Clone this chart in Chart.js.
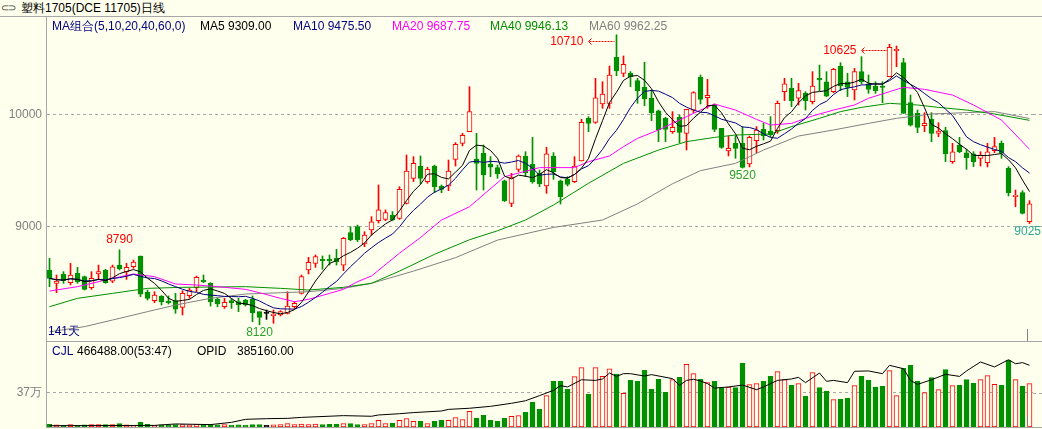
<!DOCTYPE html>
<html>
<head>
<meta charset="utf-8">
<script src="https://cdn.jsdelivr.net/npm/chart.js@4.4.1/dist/chart.umd.min.js"></script>
<style>
  body { margin: 0; width: 1042px; height: 429px; overflow: hidden; position: relative;
         background: #FFFFEE; font-family: "Liberation Sans", Arial, sans-serif; font-size: 12px; }
  .t { position: absolute; white-space: pre; line-height: 14px; }
  .hl { position: absolute; height: 1px; background: #A8A8A8; }
  .vl { position: absolute; width: 1px; background: #808080; }
  canvas { position: absolute; left: 0; }
  #main { top: 17px; }
  #vol { top: 341px; }
</style>
</head>
<body>
<canvas id="main" width="1042" height="324"></canvas>
<canvas id="vol" width="1042" height="86"></canvas>

<div class="t" style="left:1px;top:1px;color:#404040;font-size:10px;letter-spacing:-1px">⊂⊃</div>
<div class="t" style="left:21px;top:1px;color:#000">塑料1705(DCE 11705)日线</div>
<div class="hl" style="left:0;top:16px;width:1042px"></div>

<div class="t" style="left:52px;top:19px;color:#000080">MA组合(5,10,20,40,60,0)</div>
<div class="t" style="left:200px;top:19px;color:#000">MA5 9309.00</div>
<div class="t" style="left:293px;top:19px;color:#000080">MA10 9475.50</div>
<div class="t" style="left:392px;top:19px;color:#FF00FF">MA20 9687.75</div>
<div class="t" style="left:490px;top:19px;color:#009000">MA40 9946.13</div>
<div class="t" style="left:589px;top:19px;color:#808080">MA60 9962.25</div>
<div class="t" style="left:48px;top:324px;color:#000080">141天</div>
<div class="vl" style="left:1027px;top:329px;height:12px"></div>

<div class="hl" style="left:46px;top:341px;width:996px"></div>
<div class="t" style="left:52px;top:344px;color:#000080">CJL</div>
<div class="t" style="left:77px;top:344px;color:#000">466488.00(53:47)</div>
<div class="t" style="left:197px;top:344px;color:#000">OPID</div>
<div class="t" style="left:237px;top:344px;color:#000">385160.00</div>
<div class="vl" style="left:1027px;top:417px;height:10px"></div>
<div class="hl" style="left:46px;top:427px;width:996px"></div>

<script>
const days = Array.from({length: 141}, (_, i) => i + 1)

const opens = [
  8610, 8491, 8574, 8497, 8580, 8550, 8452, 8574, 8610, 8511,
  8654, 8595, 8639, 8735, 8410, 8336, 8378, 8333, 8336, 8276,
  8381, 8452, 8520, 8491, 8351, 8282, 8336, 8327, 8342, 8348,
  8238, 8223, 8202, 8208, 8223, 8282, 8401, 8610, 8669, 8705,
  8705, 8714, 8654, 8943, 8997, 8842, 8967, 9050, 9062, 9101,
  9071, 9205, 9428, 9538, 9399, 9538, 9360, 9360, 9598, 9741,
  9845, 9601, 9652, 9556, 9524, 9405, 9205, 9509, 9628, 9553,
  9473, 9360, 9628, 9405, 9419, 9399, 9583, 9964, 9928, 10092,
  10098, 10509, 10366, 10366, 10300, 10241, 10143, 10030, 9964, 9845,
  9973, 9830, 10038, 10330, 10148, 10083, 9875, 9672, 9741, 9741,
  9556, 9765, 9866, 9851, 9854, 10202, 10232, 10143, 10187, 10113,
  10321, 10291, 10202, 10431, 10291, 10217, 10381, 10271, 10253, 10253,
  10336, 10568, 10461, 10104, 10009, 9898, 9955, 9830, 9854, 9577,
  9726, 9657, 9646, 9607, 9568, 9675, 9741, 9518, 9265, 9301,
  9041
]
const highs = [
  8714, 8565, 8595, 8669, 8633, 8556, 8595, 8654, 8616, 8654,
  8790, 8669, 8699, 8735, 8431, 8416, 8381, 8378, 8401, 8425,
  8446, 8556, 8565, 8497, 8357, 8357, 8357, 8357, 8348, 8378,
  8238, 8253, 8253, 8247, 8416, 8327, 8565, 8723, 8744, 8735,
  8744, 8794, 8901, 8997, 9011, 8952, 9086, 9369, 9146, 9131,
  9354, 9637, 9622, 9628, 9527, 9547, 9369, 9592, 9747, 9830,
  10247, 9830, 9726, 9622, 9547, 9413, 9473, 9637, 9666, 9794,
  9503, 9705, 9658, 9413, 9443, 9622, 9955, 9979, 10321, 10291,
  10431, 10710, 10521, 10381, 10321, 10464, 10217, 10038, 9973, 10024,
  9994, 10044, 10202, 10351, 10312, 10092, 9875, 9806, 9806, 9890,
  9806, 9890, 9919, 9979, 10119, 10321, 10321, 10277, 10202, 10381,
  10440, 10381, 10410, 10461, 10366, 10410, 10515, 10351, 10291, 10291,
  10625, 10610, 10500, 10172, 10038, 10015, 10015, 9925, 9884, 9741,
  9794, 9687, 9666, 9666, 9741, 9794, 9762, 9533, 9324, 9318,
  9229
]
const lows = [
  8461, 8407, 8491, 8476, 8491, 8431, 8437, 8526, 8491, 8497,
  8610, 8526, 8625, 8372, 8342, 8318, 8297, 8306, 8223, 8208,
  8357, 8416, 8497, 8288, 8282, 8267, 8267, 8238, 8288, 8148,
  8120, 8169, 8134, 8199, 8217, 8267, 8395, 8574, 8633, 8616,
  8654, 8654, 8604, 8872, 8863, 8818, 8922, 9030, 9050, 9050,
  9062, 9199, 9399, 9378, 9384, 9300, 9300, 9318, 9538, 9717,
  9845, 9324, 9324, 9443, 9428, 9220, 9175, 9488, 9443, 9384,
  9354, 9294, 9419, 9199, 9360, 9390, 9583, 9845, 9919, 10053,
  10053, 10345, 10336, 10247, 10098, 10077, 9943, 9756, 9756, 9830,
  9747, 9681, 10015, 10092, 10053, 9845, 9696, 9628, 9607, 9520,
  9530, 9657, 9770, 9800, 9830, 10122, 10068, 10083, 10038, 10092,
  10211, 10158, 10193, 10211, 10158, 10128, 10271, 10187, 10187, 10104,
  10336, 10425, 10009, 9895, 9836, 9845, 9756, 9800, 9577, 9562,
  9657, 9509, 9533, 9538, 9530, 9657, 9607, 9271, 9175, 9110,
  9025
]
const closes = [
  8535, 8511, 8514, 8565, 8505, 8437, 8535, 8595, 8497, 8639,
  8619, 8633, 8681, 8395, 8357, 8387, 8327, 8318, 8259, 8401,
  8431, 8544, 8505, 8327, 8306, 8321, 8318, 8297, 8297, 8229,
  8187, 8223, 8217, 8238, 8288, 8312, 8550, 8678, 8729, 8693,
  8690, 8684, 8892, 8878, 8878, 8922, 9041, 9146, 9122, 9056,
  9330, 9494, 9562, 9428, 9509, 9354, 9330, 9494, 9732, 9812,
  10024, 9562, 9458, 9527, 9467, 9229, 9434, 9628, 9479, 9398,
  9378, 9646, 9488, 9265, 9375, 9538, 9928, 9919, 10148, 10181,
  10351, 10387, 10446, 10336, 10211, 10137, 10015, 9860, 9866, 9884,
  9839, 10044, 10193, 10134, 10169, 9866, 9705, 9696, 9696, 9526,
  9794, 9860, 9806, 9815, 10098, 10271, 10122, 10211, 10122, 10253,
  10306, 10163, 10401, 10253, 10241, 10381, 10291, 10223, 10211, 10241,
  10598, 10580, 10009, 9904, 9884, 9919, 9830, 9851, 9646, 9666,
  9666, 9613, 9577, 9637, 9666, 9711, 9657, 9301, 9277, 9116,
  9200
]
const volumes = [
  29000, 22000, 18000, 25000, 18000, 22000, 25000, 25000, 25000, 25000,
  36000, 22000, 18000, 50000, 29000, 18000, 22000, 18000, 25000, 25000,
  22000, 29000, 22000, 29000, 22000, 25000, 18000, 22000, 18000, 25000,
  25000, 18000, 22000, 25000, 36000, 25000, 32000, 25000, 32000, 25000,
  29000, 29000, 36000, 36000, 25000, 25000, 36000, 72000, 36000, 39000,
  72000, 90000, 61000, 61000, 36000, 61000, 72000, 72000, 100000, 79000,
  168000, 93000, 125000, 72000, 61000, 93000, 115000, 122000, 158000, 265000,
  190000, 337000, 491000, 491000, 405000, 541000, 638000, 351000, 638000, 545000,
  627000, 570000, 362000, 502000, 491000, 609000, 405000, 513000, 373000, 509000,
  534000, 674000, 574000, 513000, 477000, 491000, 416000, 430000, 423000, 685000,
  455000, 466000, 491000, 545000, 595000, 509000, 448000, 466000, 330000, 584000,
  423000, 384000, 294000, 298000, 308000, 445000, 545000, 502000, 430000, 437000,
  606000, 337000, 631000, 663000, 491000, 369000, 531000, 402000, 617000, 445000,
  448000, 509000, 470000, 509000, 552000, 459000, 448000, 717000, 509000, 437000,
  466488
]

// moving averages: [day index, value]
const ma20Read = [[0,8422],[4,8461],[9,8535],[12,8574],[15,8550],[18,8485],[21,8476],[24,8461],[28,8437],[30,8407],
  [33,8357],[35,8327],[37,8348],[40,8401],[42,8437],[44,8506],[46,8556],[50,8760],[53,8900],[56,9056],[60,9175],
  [65,9443],[70,9524],[75,9524],[77,9577],[80,9628],[82,9711],[84,9785],[87,9860],[89,9919],[91,9979],[93,10038],
  [95,10092],[98,10038],[101,9955],[103,9904],[106,9919],[109,9985],[112,10038],[115,10083],[117,10143],[120,10202],
  [122,10241],[125,10223],[129,10172],[132,10083],[136,9949],[140,9688]]
const ma40Read = [[0,8282],[4,8357],[9,8401],[14,8446],[19,8455],[28,8461],[33,8446],[37,8431],[42,8455],[46,8491],
  [50,8600],[55,8750],[60,8880],[64,8960],[68,9056],[72,9190],[77,9384],[82,9562],[87,9681],[91,9756],[95,9794],
  [98,9815],[103,9824],[106,9890],[110,9964],[113,10024],[116,10062],[120,10098],[124,10083],[127,10062],[131,10038],
  [135,10003],[140,9946]]
const ma60Read = [[0,8058],[5,8104],[9,8163],[14,8238],[18,8297],[23,8357],[28,8395],[33,8407],[37,8416],[42,8446],
  [46,8491],[52,8600],[58,8720],[64,8877],[72,8990],[79,9056],[84,9200],[89,9380],[93,9497],[98,9562],[102,9681],
  [107,9806],[112,9860],[117,9919],[121,9964],[126,10003],[131,10015],[135,10024],[140,9962]]
const opidRead = [[0,8000],[15,10000],[18,19000],[23,15000],[26,29000],[28,48000],[31,52000],[34,54000],[36,60000],
  [42,71000],[46,67000],[47,75000],[50,83000],[52,90000],[56,100000],[57,110000],[60,117000],[63,129000],[66,148000],
  [68,164000],[70,196000],[72,229000],[73,258000],[74,250000],[76,295000],[78,291000],[79,300000],[80,337000],
  [81,316000],[82,333000],[83,333000],[85,318000],[86,327000],[89,302000],[90,260000],[91,291000],[92,298000],
  [93,287000],[94,271000],[95,243000],[97,250000],[99,262000],[101,233000],[102,250000],[104,291000],[106,300000],
  [107,310000],[108,277000],[110,337000],[111,285000],[112,291000],[114,277000],[115,348000],[117,350000],
  [119,333000],[120,385000],[122,364000],[123,291000],[124,266000],[126,295000],[128,329000],[130,316000],
  [131,350000],[133,406000],[135,375000],[137,420000],[138,395000],[139,402000],[140,385160]]

// labelled extremes
const markIdx = [10, 30, 81, 99, 120, 140]
const markVal = [8790, 8120, 10710, 9520, 10625, 9025]
const markKind = ['up', 'down', 'arrow', 'down', 'arrow', 'down']
const markColor = ['#FF0000', '#2AA02A', '#FF0000', '#2AA02A', '#FF0000', '#2AA898']

const BG = '#FFFFEE'
const RED = '#FF0000'
const GREEN = '#009000'
const GRID = '#A8A8A8'
const FONT = {family: 'Liberation Sans', size: 12}

const dir = i => closes[i] > opens[i] ? 1 : (closes[i] < opens[i] ? -1 : 0)
const lineCol = i => dir(i) > 0 ? RED : (dir(i) < 0 ? GREEN : '#000000')
const fillCol = i => dir(i) > 0 ? BG : (dir(i) < 0 ? GREEN : '#000000')

const sparse = read => {
  const arr = days.map(() => null)
  read.forEach(([i, v]) => { arr[i] = v })
  return arr
}
const movingAvg = n => closes.map((_, i) => {
  const from = Math.max(0, i - n + 1)
  const part = closes.slice(from, i + 1)
  return part.reduce((a, b) => a + b, 0) / part.length
})

const maLine = (data, color) => ({
  type: 'line', data, borderColor: color, borderWidth: 1, pointRadius: 0,
  tension: 0, spanGaps: true, order: 1
})

const markLabels = {
  id: 'markLabels',
  afterDatasetsDraw: (chart) => {
    const {ctx} = chart
    const x = chart.scales.x, y = chart.scales.y
    ctx.save()
    ctx.font = '12px "Liberation Sans"'
    ctx.textBaseline = 'middle'
    markIdx.forEach((idx, n) => {
      const cx = x.getPixelForValue(idx)
      const py = y.getPixelForValue(markVal[n])
      const txt = String(markVal[n])
      const w = ctx.measureText(txt).width
      ctx.fillStyle = markColor[n]
      ctx.strokeStyle = markColor[n]
      if (markKind[n] === 'arrow') {
        const ay = Math.round(py + 6) + 0.5
        ctx.textAlign = 'right'
        ctx.fillText(txt, cx - 33, ay)
        ctx.lineWidth = 1
        ctx.setLineDash([2, 1])
        ctx.beginPath()
        ctx.moveTo(cx - 27, ay)
        ctx.lineTo(cx - 2, ay)
        ctx.stroke()
        ctx.setLineDash([])
        ctx.beginPath()
        ctx.moveTo(cx - 25, ay - 3)
        ctx.lineTo(cx - 28, ay)
        ctx.lineTo(cx - 25, ay + 3)
        ctx.stroke()
      } else {
        const ty = markKind[n] === 'up' ? py - 10 : py + 8
        let tx = cx
        if (tx + w / 2 > chart.width - 1) tx = chart.width - 1 - w / 2
        ctx.textAlign = 'center'
        ctx.fillText(txt, tx, ty)
      }
    })
    ctx.restore()
  }
}

// carry the dashed grid lines on to the right edge of the window
const gridTail = {
  id: 'gridTail',
  beforeDatasetsDraw: (chart) => {
    const {ctx, chartArea} = chart
    const y = chart.scales.y
    ctx.save()
    ctx.strokeStyle = GRID
    ctx.lineWidth = 1
    ctx.setLineDash([3, 3])
    y.ticks.forEach(t => {
      const py = Math.round(y.getPixelForValue(t.value)) + 0.5
      ctx.beginPath()
      ctx.moveTo(chartArea.right, py)
      ctx.lineTo(chart.width, py)
      ctx.stroke()
    })
    ctx.restore()
  }
}

const axisY = (min, max, ticks, label) => ({
  position: 'left', min, max,
  afterFit: s => { s.width = 46; s.paddingTop = 0; s.paddingBottom = 0 },
  afterBuildTicks: s => { s.ticks = ticks.map(v => ({value: v})) },
  grid: {color: GRID, drawTicks: false},
  border: {display: true, color: GRID, dash: [3, 3]},
  ticks: {color: '#808080', font: FONT, padding: 4, callback: label}
})

const common = {
  responsive: false,
  animation: false,
  events: [],
  layout: {padding: {left: 0, right: 9, top: 0, bottom: 0}},
  plugins: {legend: {display: false}, tooltip: {enabled: false}}
}

new Chart(document.getElementById('main'), {
  type: 'bar',
  data: {
    labels: days,
    datasets: [
      maLine(movingAvg(5), '#000000'),
      maLine(movingAvg(10), '#000080'),
      maLine(sparse(ma20Read), '#FF00FF'),
      maLine(sparse(ma40Read), '#009000'),
      maLine(sparse(ma60Read), '#808080'),
      {
        data: lows.map((l, i) => [l, highs[i]]),
        backgroundColor: days.map((_, i) => lineCol(i)),
        barThickness: 1, grouped: false, order: 3
      },
      {
        data: opens.map((o, i) => [o, closes[i]]),
        backgroundColor: days.map((_, i) => fillCol(i)),
        borderColor: days.map((_, i) => lineCol(i)),
        borderWidth: 1, borderSkipped: false, minBarLength: 1,
        barThickness: 5, grouped: false, order: 2
      }
    ]
  },
  options: {
    ...common,
    scales: {
      x: {display: false, offset: true},
      y: axisY(7975.9, 10868.8, [9000, 10000], v => String(v))
    }
  },
  plugins: [markLabels, gridTail]
})

new Chart(document.getElementById('vol'), {
  type: 'bar',
  data: {
    labels: days,
    datasets: [
      {
        type: 'line', data: sparse(opidRead), yAxisID: 'y2',
        borderColor: '#000000', borderWidth: 1, pointRadius: 0, spanGaps: true, order: 1
      },
      {
        data: volumes,
        backgroundColor: days.map((_, i) => fillCol(i)),
        borderColor: days.map((_, i) => lineCol(i)),
        borderWidth: 1, borderSkipped: false,
        barThickness: 5, order: 2
      }
    ]
  },
  options: {
    ...common,
    scales: {
      x: {display: false, offset: true},
      y: axisY(0, 925000, [370000], () => '37万'),
      y2: {display: false, min: 0, max: 537000}
    }
  },
  plugins: [gridTail]
})
</script>
</body>
</html>
